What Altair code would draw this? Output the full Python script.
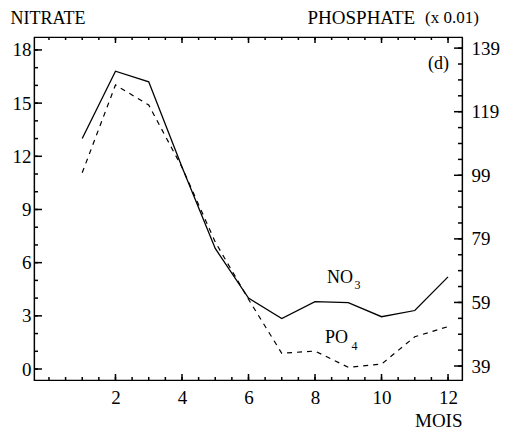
import altair as alt
import pandas as pd

# ---- data ----
months = [1, 2, 3, 4, 5, 6, 7, 8, 9, 10, 11, 12]
nitrate = [13.0, 16.8, 16.2, 11.4, 6.8, 4.0, 2.85, 3.8, 3.75, 2.95, 3.3, 5.2]
phosphate = [99.8, 127.4, 121.1, 101.5, 78.0, 60.0, 43.0, 43.7, 38.6, 39.6, 48.2, 51.4]

nitrate_ticks = [0, 3, 6, 9, 12, 15, 18]
nitrate_minor = [0, 1, 2, 3, 4, 5, 6, 7, 8, 9, 10, 11, 12, 13, 14, 15, 16, 17, 18]
phosphate_ticks = [39, 59, 79, 99, 119, 139]
phosphate_minor = [39, 44, 49, 54, 59, 64, 69, 74, 79, 84, 89, 94, 99, 104, 109, 114, 119, 124, 129, 134, 139]
month_ticks = [2, 4, 6, 8, 10, 12]
month_minor = [0, 0.5, 1, 1.5, 2, 2.5, 3, 3.5, 4, 4.5, 5, 5.5, 6, 6.5, 7, 7.5, 8, 8.5, 9, 9.5, 10, 10.5, 11, 11.5, 12]

big_labels = ["NO", "PO", "(d)"]
big_x = [8.36, 8.30, 11.4]
big_y = [4.85, 1.45, 16.9]
sub_labels = ["3", "4"]
sub_x = [9.19, 9.10]
sub_y = [4.5, 1.07]

df = pd.DataFrame({"mois": months, "nitrate": nitrate, "phosphate": phosphate})
df_big = pd.DataFrame({"x": big_x, "y": big_y, "t": big_labels})
df_sub = pd.DataFrame({"x": sub_x, "y": sub_y, "t": sub_labels})

FONT = "Liberation Serif"
W, H = 428, 343
xs = alt.Scale(domain=[-0.45, 12.42], nice=False, zero=False)
ns = alt.Scale(domain=[-0.62, 18.73], nice=False, zero=False)
ps = alt.Scale(domain=[34.6, 142.5], nice=False, zero=False)

base = alt.Chart(df)

no3 = base.mark_line(color="black", strokeWidth=1.3).encode(
    x=alt.X("mois:Q", scale=xs, axis=alt.Axis(
        orient="bottom", values=month_ticks, format="d", ticks=False,
        labelPadding=8, title="MOIS", titleX=W, titleY=46,
        titleAlign="right", titleBaseline="alphabetic", titleFontSize=19)),
    y=alt.Y("nitrate:Q", scale=ns, axis=alt.Axis(
        orient="left", values=nitrate_ticks, ticks=False,
        labelPadding=3, title="NITRATE", titleAngle=0, titleX=-24,
        titleY=-14, titleAlign="left", titleBaseline="alphabetic",
        titleFontSize=18)),
)

po4 = base.mark_line(color="black", strokeWidth=1.2, strokeDash=[5, 5]).encode(
    x=alt.X("mois:Q", scale=xs, axis=None),
    y=alt.Y("phosphate:Q", scale=ps, axis=alt.Axis(
        orient="right", values=phosphate_ticks, ticks=False,
        labelPadding=9, title="PHOSPHATE", titleAngle=0, titleX=-155,
        titleY=-14, titleAlign="left", titleBaseline="alphabetic",
        titleFontSize=19)),
)


def hticks(values, scale, x0, x1):
    d = pd.DataFrame({"v": values})
    return alt.Chart(d).mark_rule(color="black", strokeWidth=1.5).encode(
        y=alt.Y("v:Q", scale=scale, axis=None),
        x=alt.value(x0), x2=alt.value(x1),
    )


def vticks(values, y0, y1):
    d = pd.DataFrame({"v": values})
    return alt.Chart(d).mark_rule(color="black", strokeWidth=1.5).encode(
        x=alt.X("v:Q", scale=xs, axis=None),
        y=alt.value(y0), y2=alt.value(y1),
    )


tick_layers = [
    hticks(nitrate_ticks, ns, 0, 8),
    hticks(nitrate_minor, ns, 0, 4),
    hticks(phosphate_ticks, ps, W - 8, W),
    hticks(phosphate_minor, ps, W - 4, W),
    vticks(month_ticks, H - 6, H),
    vticks(month_minor, H - 3, H),
    vticks(month_ticks, 0, 6),
    vticks(month_minor, 0, 3),
]

txt_big = alt.Chart(df_big).mark_text(
    font=FONT, fontSize=18, align="left", baseline="alphabetic", color="black"
).encode(
    x=alt.X("x:Q", scale=xs, axis=None),
    y=alt.Y("y:Q", scale=ns, axis=None),
    text="t:N",
)

txt_sub = alt.Chart(df_sub).mark_text(
    font=FONT, fontSize=12, align="left", baseline="alphabetic", color="black"
).encode(
    x=alt.X("x:Q", scale=xs, axis=None),
    y=alt.Y("y:Q", scale=ns, axis=None),
    text="t:N",
)

scale_note = alt.Chart(pd.DataFrame({"t": ["(x 0.01)"]})).mark_text(
    font=FONT, fontSize=17, align="left", baseline="alphabetic", color="black"
).encode(
    x=alt.value(W - 37),
    y=alt.value(-14),
    text="t:N",
)

chart = alt.layer(
    no3, po4, *tick_layers, txt_big, txt_sub, scale_note
).resolve_scale(
    y="independent"
).resolve_axis(
    x="independent", y="independent"
).properties(
    width=W, height=H,
    autosize=alt.AutoSizeParams(type="none"),
    padding={"left": 26, "top": 29, "right": 44, "bottom": 50},
    background="white",
).configure_view(
    stroke="black", strokeWidth=1.2
).configure_axis(
    labelFont=FONT, labelFontSize=19, labelColor="black",
    titleFont=FONT, titleColor="black", titleFontWeight="normal",
    domainColor="black", domainWidth=1.2, grid=False,
)

chart.save("out.html", embed_options={"renderer": "svg", "actions": False})
